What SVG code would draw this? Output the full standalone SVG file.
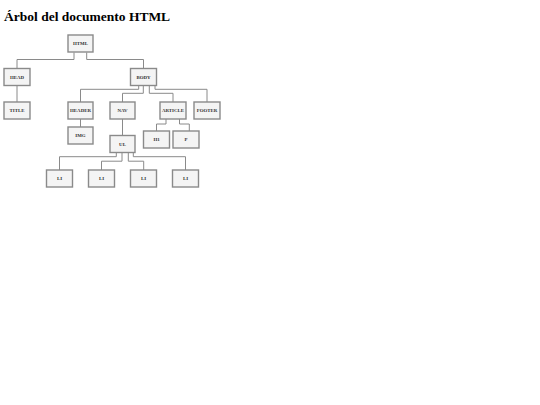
<svg xmlns="http://www.w3.org/2000/svg" width="540" height="405" viewBox="0 0 540 405">
<style>
.bg{fill:#ffffff}
.title{font-family:"Liberation Serif","Times New Roman",serif;font-weight:bold;font-size:13.5px;fill:#000}
.box{fill:#f4f4f4;stroke:#8a8a8a;stroke-width:1.4}
.lbl{font-family:"Liberation Serif","Times New Roman",serif;font-weight:bold;font-size:4.9px;fill:#333;text-anchor:middle;dominant-baseline:central}
.edge{fill:none;stroke:#8a8a8a;stroke-width:1}
</style>
<rect class="bg" x="0" y="0" width="540" height="405"/>
<text class="title" x="4" y="21">Árbol del documento HTML</text>
<g id="connectors">
<path class="edge" d="M74,52.5 V59.5 H17 V68.5"/>
<path class="edge" d="M86.7,52.5 V59.5 H143.5 V68.5"/>
<path class="edge" d="M17,85.5 V102"/>
<path class="edge" d="M138.7,85.5 V89.3 H80.5 V102"/>
<path class="edge" d="M143.3,85.5 V93.3 H122.5 V102"/>
<path class="edge" d="M149.3,85.5 V93.3 H173 V102"/>
<path class="edge" d="M155,85.5 V89.3 H207 V102"/>
<path class="edge" d="M80.5,119 V127"/>
<path class="edge" d="M122.5,119 V135.5"/>
<path class="edge" d="M166,119 V124 H156.5 V131"/>
<path class="edge" d="M179.5,119 V124 H189.3 V131"/>
<path class="edge" d="M116.3,152.5 V156.7 H59.5 V170"/>
<path class="edge" d="M122,152.5 V161.2 H101.5 V170"/>
<path class="edge" d="M128.3,152.5 V161.2 H143.7 V170"/>
<path class="edge" d="M133.3,152.5 V156.7 H185.5 V170"/>
</g>
<g id="n-html"><rect class="box" x="68" y="35" width="25" height="17"/><text class="lbl" x="80.5" y="43.5">HTML</text></g>
<g id="n-head"><rect class="box" x="4" y="68.5" width="26" height="17"/><text class="lbl" x="17" y="77">HEAD</text></g>
<g id="n-body"><rect class="box" x="130.5" y="68.5" width="26" height="17"/><text class="lbl" x="143.5" y="77">BODY</text></g>
<g id="n-title"><rect class="box" x="4" y="102" width="26" height="17"/><text class="lbl" x="17" y="110.5">TITLE</text></g>
<g id="n-header"><rect class="box" x="68" y="102" width="25" height="17"/><text class="lbl" x="80.5" y="110.5">HEADER</text></g>
<g id="n-nav"><rect class="box" x="110" y="102" width="25" height="17"/><text class="lbl" x="122.5" y="110.5">NAV</text></g>
<g id="n-article"><rect class="box" x="160" y="102" width="26" height="17"/><text class="lbl" x="173" y="110.5">ARTICLE</text></g>
<g id="n-footer"><rect class="box" x="194" y="102" width="26" height="17"/><text class="lbl" x="207" y="110.5">FOOTER</text></g>
<g id="n-img"><rect class="box" x="68" y="127" width="25" height="17"/><text class="lbl" x="80.5" y="135.5">IMG</text></g>
<g id="n-ul"><rect class="box" x="110" y="135.5" width="25" height="17"/><text class="lbl" x="122.5" y="144">UL</text></g>
<g id="n-h1"><rect class="box" x="143.5" y="131" width="26" height="17"/><text class="lbl" x="156.5" y="139.5">H1</text></g>
<g id="n-p"><rect class="box" x="173" y="131" width="26" height="17"/><text class="lbl" x="186" y="139.5">P</text></g>
<g id="n-li1"><rect class="box" x="46.5" y="170" width="26" height="17"/><text class="lbl" x="59.5" y="178.5">LI</text></g>
<g id="n-li2"><rect class="box" x="88.5" y="170" width="26" height="17"/><text class="lbl" x="101.5" y="178.5">LI</text></g>
<g id="n-li3"><rect class="box" x="130.5" y="170" width="26" height="17"/><text class="lbl" x="143.5" y="178.5">LI</text></g>
<g id="n-li4"><rect class="box" x="172.5" y="170" width="26" height="17"/><text class="lbl" x="185.5" y="178.5">LI</text></g>
</svg>
